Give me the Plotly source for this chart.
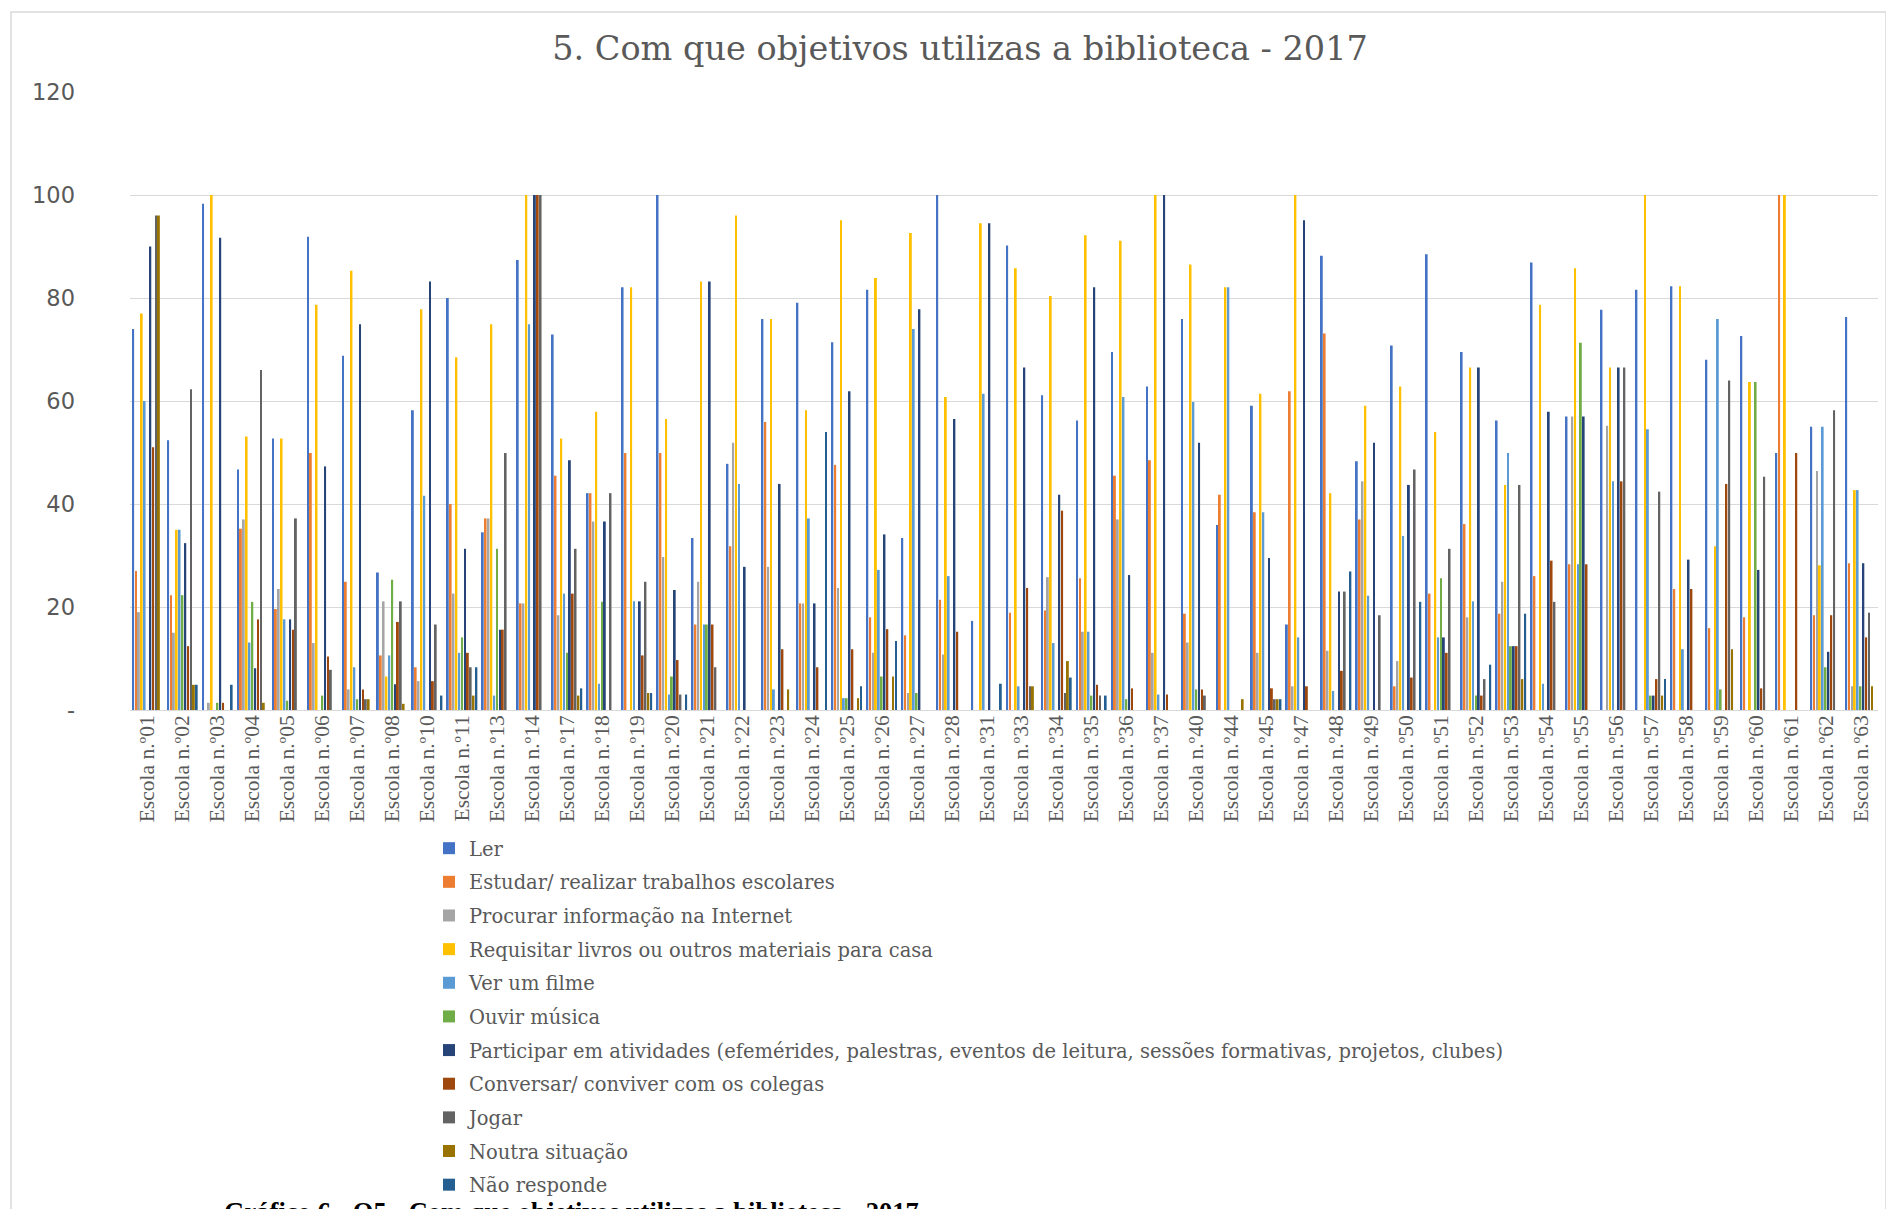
import plotly.graph_objects as go

schools = ["01","02","03","04","05","06","07","08","10","11","13","14","17","18","19","20","21","22","23","24",
           "25","26","27","28","31","33","34","35","36","37","40","44","45","47","48","49","50","51","52","53",
           "54","55","56","57","58","59","60","61","62","63"]
categories = ["Escola n.º" + s for s in schools]

ler = [74, 52.4, 98.3, 46.7, 52.7, 91.9, 68.8, 26.7, 58.2, 80, 34.5, 87.4, 72.9, 42.1, 82.1, 100, 33.4, 47.8, 75.9, 79.1,
       71.4, 81.6, 33.4, 100, 17.3, 90.2, 61.1, 56.2, 69.5, 62.8, 75.9, 35.9, 59.1, 16.6, 88.2, 48.3, 70.8, 88.5, 69.5, 56.2,
       86.9, 57, 77.7, 81.6, 82.3, 68, 72.6, 49.9, 55, 76.3]
estudar = [27, 22.3, 0, 35.2, 19.6, 49.9, 24.9, 10.6, 8.3, 40, 37.2, 20.7, 45.5, 42.1, 49.9, 49.9, 16.6, 31.8, 55.9, 20.7,
           47.6, 18, 14.5, 21.4, 0, 18.9, 19.3, 25.6, 45.5, 48.5, 18.7, 41.8, 38.4, 61.9, 73.1, 37, 4.6, 22.6, 36.1, 18.7,
           26, 28.3, 0, 0, 23.5, 15.9, 18, 100, 18.4, 28.5]
internet = [19, 15, 1.4, 37, 23.5, 13, 4, 21.1, 5.6, 22.6, 37.2, 20.7, 18.4, 36.6, 0, 29.7, 24.9, 51.9, 27.8, 20.7,
            23.7, 11.1, 3.3, 10.8, 0, 0, 25.8, 15.2, 37, 11.1, 13.1, 0, 11.1, 4.6, 11.5, 44.4, 9.5, 0, 18, 24.9,
            0, 57, 55.2, 0, 0, 0, 0, 0, 46.4, 4.6]
requisitar = [77, 35, 100, 53.1, 52.7, 78.7, 85.3, 6.5, 77.8, 68.5, 74.9, 100, 52.7, 57.9, 82.1, 56.5, 83.2, 96, 75.9, 58.2,
              95.1, 83.9, 92.6, 60.8, 94.5, 85.8, 80.4, 92.2, 91.1, 100, 86.5, 82.1, 61.4, 100, 42.1, 59.1, 62.8, 54, 66.5, 43.7,
              78.7, 85.8, 66.5, 100, 82.3, 31.8, 63.7, 100, 28.1, 42.7]
filme = [60, 35, 0, 13.1, 17.6, 0, 8.3, 10.6, 41.6, 11.1, 2.8, 74.9, 22.6, 5.1, 21.1, 3, 16.6, 43.9, 4, 37.2,
         2.3, 27.2, 74, 26, 61.4, 4.6, 13, 15.2, 60.8, 3, 59.8, 82.1, 38.4, 14.1, 3.7, 22.2, 33.8, 14.1, 21.1, 49.9,
         5.1, 28.3, 44.4, 54.5, 11.8, 75.9, 0, 0, 55, 42.7]
musica = [0, 22.3, 1.4, 21, 1.8, 2.8, 2.1, 25.3, 0, 14.1, 31.3, 0, 11.1, 21, 0, 6.5, 16.6, 0, 0, 0,
          2.3, 6.5, 3.3, 0, 0, 0, 0, 2.8, 2.1, 0, 4, 0, 0, 0, 0, 0, 0, 25.6, 2.8, 12.4,
          0, 71.3, 0, 2.8, 0, 4, 63.7, 0, 8.3, 4.6]
participar = [90, 32.4, 91.7, 8.1, 17.6, 47.3, 74.9, 5, 83.2, 31.3, 15.6, 100, 48.5, 36.6, 21.1, 23.3, 83.2, 27.8, 43.9, 20.7,
              61.9, 34.1, 77.8, 56.5, 94.5, 66.5, 41.8, 82.1, 26.2, 100, 51.9, 0, 29.5, 95.1, 23, 51.9, 43.7, 14.1, 66.5, 12.4,
              57.9, 57, 66.5, 2.8, 29.2, 0, 27.2, 0, 11.3, 28.5]
conversar = [51, 12.4, 1.4, 17.6, 15.6, 10.4, 4, 17.1, 5.6, 11.1, 15.6, 100, 22.6, 0, 10.6, 9.7, 16.6, 0, 11.8, 8.3,
             11.8, 15.7, 0, 15.2, 0, 23.7, 38.7, 4.9, 4.2, 3, 4, 0, 4.2, 4.6, 7.6, 0, 6.3, 11.1, 2.8, 12.4,
             29, 28.3, 44.4, 6, 23.5, 43.9, 4.2, 49.9, 18.4, 14.1]
jogar = [96, 62.3, 0, 66, 37.2, 7.8, 2.1, 21.1, 16.6, 8.3, 49.9, 100, 31.3, 42.1, 24.9, 3, 8.3, 0, 0, 0,
         0, 0, 0, 0, 0, 4.6, 3.3, 2.8, 0, 0, 2.8, 0, 2.1, 0, 23, 18.4, 46.7, 31.3, 6, 43.7,
         21, 0, 66.5, 42.4, 0, 64, 45.3, 0, 58.2, 18.9]
noutra = [96, 4.9, 0, 1.4, 0, 0, 2.1, 1.2, 0, 2.8, 0, 0, 2.8, 0, 3.3, 0, 0, 0, 4, 0,
          2.3, 6.5, 0, 0, 0, 4.6, 9.5, 0, 0, 0, 0, 2.1, 2.1, 0, 0, 0, 0, 0, 0, 6,
          0, 0, 0, 2.8, 0, 11.8, 0, 0, 0, 4.6]
nao_responde = [0, 4.9, 4.9, 0, 0, 0, 0, 0, 2.8, 8.3, 0, 0, 4.2, 0, 3.3, 3, 0, 0, 0, 54,
                4.6, 13.4, 0, 0, 5.1, 0, 6.3, 2.8, 0, 0, 0, 0, 2.1, 0, 26.9, 0, 21, 0, 8.8, 18.7,
                0, 0, 0, 6, 0, 0, 0, 0, 0, 0]

series_names = ["Ler",
                "Estudar/ realizar trabalhos escolares",
                "Procurar informação na Internet",
                "Requisitar livros ou outros materiais para casa",
                "Ver um filme",
                "Ouvir música",
                "Participar em atividades (efemérides, palestras, eventos de leitura, sessões formativas, projetos, clubes)",
                "Conversar/ conviver com os colegas",
                "Jogar",
                "Noutra situação",
                "Não responde"]
series_values = [ler, estudar, internet, requisitar, filme, musica, participar, conversar, jogar, noutra, nao_responde]
colors = ["#4472C4", "#ED7D31", "#A5A5A5", "#FFC000", "#5B9BD5", "#70AD47",
          "#264478", "#9E480E", "#636363", "#997300", "#255E91"]

ytick_vals = [0, 20, 40, 60, 80, 100, 120]
ytick_text = ["-", "20", "40", "60", "80", "100", "120"]

fig = go.Figure()
for i, (name, vals, col) in enumerate(zip(series_names, series_values, colors)):
    fig.add_trace(go.Bar(x=categories, y=vals, name=name, marker_color=col,
                         marker_line_width=0, legendgroup=f"g{i}"))

# page body has an 8px margin: work in reference-pixel coordinates and shift
OFF = 8
W, H = 1894 - OFF, 1209 - OFF
L, T = 130 - OFF, 92 - OFF
R = W - (1878 - OFF)
B = H - (710 - OFF)
pw, ph = W - L - R, H - T - B

def px_x(p):
    return (p - OFF - L) / pw

def px_y(p):
    return (H - B - (p - OFF)) / ph

SERIF = "DejaVu Serif, serif"

fig.update_layout(
    width=W, height=H,
    margin=dict(l=L, r=R, t=T, b=B, autoexpand=False),
    paper_bgcolor="white", plot_bgcolor="white",
    barmode="group", bargap=0.1, bargroupgap=0.35,
    title=dict(text="5. Com que objetivos utilizas a biblioteca - 2017",
               x=px_x(960), xanchor="center", xref="paper", y=1 - (48 - OFF) / H, yanchor="middle", yref="container",
               font=dict(family=SERIF, size=33.5, color="#595959")),
    font=dict(family=SERIF, color="#595959"),
    showlegend=True,
    legend=dict(orientation="v", x=px_x(429), xanchor="left", y=px_y(829), yanchor="top",
                font=dict(family=SERIF, size=19.5, color="#595959"),
                bgcolor="rgba(0,0,0,0)", tracegroupgap=5.3, traceorder="grouped",
                itemwidth=30),
    xaxis=dict(type="category", tickangle=-90, showgrid=False, showline=False, ticks="",
               tickfont=dict(family="Liberation Serif, Times New Roman, serif", size=21.5, color="#595959")),
    yaxis=dict(range=[0, 120], tickvals=ytick_vals, ticktext=ytick_text, showgrid=True,
               gridcolor="#D9D9D9", gridwidth=1, zeroline=True, zerolinecolor="#D9D9D9", zerolinewidth=1,
               showline=False, ticks="", ticklabelstandoff=54,
               tickfont=dict(family="DejaVu Sans, sans-serif", size=22.5, color="#595959")),
    shapes=[dict(type="rect", xref="paper", yref="paper",
                 x0=px_x(11), x1=px_x(1886), y0=px_y(1260), y1=px_y(12),
                 line=dict(color="#D9D9D9", width=1.5), fillcolor="rgba(0,0,0,0)", layer="below")],
    annotations=[dict(text="<b>Gráfico 6 - Q5 - Com que objetivos utilizas a biblioteca - 2017</b>",
                      xref="paper", yref="paper", x=px_x(222), y=px_y(1195), xanchor="left", yanchor="top",
                      showarrow=False,
                      font=dict(family="Liberation Serif, Times New Roman, serif", size=26.5, color="#000000"))],
)

fig.write_html("out.html")
